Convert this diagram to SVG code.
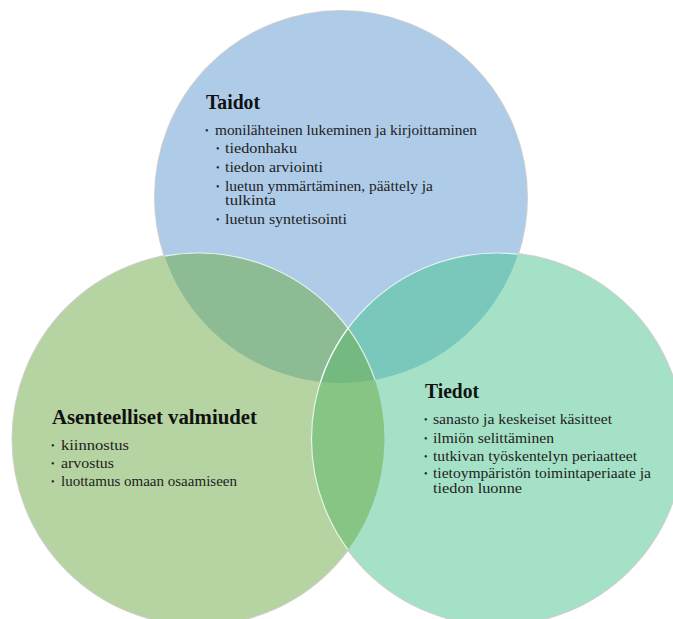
<svg xmlns="http://www.w3.org/2000/svg" width="673" height="619" viewBox="0 0 673 619">
<style>
.halo{fill:none;stroke:#cfcfcf;stroke-width:2}
.edge{fill:none;stroke:#ffffff;stroke-opacity:0.75;stroke-width:1.2}
.h{font-family:"Liberation Serif","Times New Roman",serif;font-weight:bold;font-size:20px;fill:#111}
.b{font-family:"Liberation Serif","Times New Roman",serif;font-size:14px;fill:#222}
.d{font-family:"Liberation Serif","Times New Roman",serif;font-size:10px;fill:#222}
</style>
<defs>
<clipPath id="cBlue"><circle cx="341" cy="197" r="186"/></clipPath>
<clipPath id="cGreen"><circle cx="198.5" cy="439" r="186"/></clipPath>
<clipPath id="cTeal"><circle cx="497.5" cy="439" r="186"/></clipPath>
</defs>
<rect width="673" height="619" fill="#ffffff"/>
<g id="halos">
<circle class="halo" cx="341" cy="197" r="186"/>
<circle class="halo" cx="198.5" cy="439" r="186"/>
<circle class="halo" cx="497.5" cy="439" r="186"/>
</g>
<g id="circles">
<circle cx="341" cy="197" r="186" fill="#aecbe8"/>
<circle cx="198.5" cy="439" r="186" fill="#b5d4a2"/>
<circle cx="497.5" cy="439" r="186" fill="#a5e1c7"/>
</g>
<g id="overlaps">
<circle cx="198.5" cy="439" r="186" fill="#8dbb94" clip-path="url(#cBlue)"/>
<circle cx="497.5" cy="439" r="186" fill="#7ac8bb" clip-path="url(#cBlue)"/>
<circle cx="497.5" cy="439" r="186" fill="#87c585" clip-path="url(#cGreen)"/>
<g clip-path="url(#cBlue)"><circle cx="497.5" cy="439" r="186" fill="#74b97f" clip-path="url(#cGreen)"/></g>
</g>
<g id="edges">
<circle class="edge" cx="198.5" cy="439" r="186" clip-path="url(#cBlue)"/>
<circle class="edge" cx="497.5" cy="439" r="186" clip-path="url(#cBlue)"/>
<circle class="edge" cx="497.5" cy="439" r="186" clip-path="url(#cGreen)"/>
</g>
<g id="taidot">
<text class="h" x="206" y="109" textLength="54" lengthAdjust="spacingAndGlyphs">Taidot</text>
<text class="d" x="205" y="134">•</text>
<text class="b" x="215" y="135" textLength="262" lengthAdjust="spacingAndGlyphs">monilähteinen lukeminen ja kirjoittaminen</text>
<text class="d" x="216" y="152">•</text>
<text class="b" x="225" y="153" textLength="72" lengthAdjust="spacingAndGlyphs">tiedonhaku</text>
<text class="d" x="216" y="171">•</text>
<text class="b" x="225" y="172" textLength="98" lengthAdjust="spacingAndGlyphs">tiedon arviointi</text>
<text class="d" x="216" y="190">•</text>
<text class="b" x="225" y="191" textLength="208" lengthAdjust="spacingAndGlyphs">luetun ymmärtäminen,  päättely ja</text>
<text class="b" x="225" y="205" textLength="51" lengthAdjust="spacingAndGlyphs">tulkinta</text>
<text class="d" x="216" y="223">•</text>
<text class="b" x="225" y="224" textLength="122" lengthAdjust="spacingAndGlyphs">luetun syntetisointi</text>
</g>
<g id="asenteelliset">
<text class="h" x="52" y="424" textLength="205" lengthAdjust="spacingAndGlyphs">Asenteelliset valmiudet</text>
<text class="d" x="51" y="449">•</text>
<text class="b" x="61" y="450" textLength="68" lengthAdjust="spacingAndGlyphs">kiinnostus</text>
<text class="d" x="51" y="467">•</text>
<text class="b" x="61" y="468" textLength="53" lengthAdjust="spacingAndGlyphs">arvostus</text>
<text class="d" x="51" y="485">•</text>
<text class="b" x="61" y="486" textLength="176" lengthAdjust="spacingAndGlyphs">luottamus omaan osaamiseen</text>
</g>
<g id="tiedot">
<text class="h" x="425" y="398" textLength="54" lengthAdjust="spacingAndGlyphs">Tiedot</text>
<text class="d" x="424" y="423">•</text>
<text class="b" x="433" y="424" textLength="179" lengthAdjust="spacingAndGlyphs">sanasto ja keskeiset käsitteet</text>
<text class="d" x="424" y="442">•</text>
<text class="b" x="433" y="443" textLength="121" lengthAdjust="spacingAndGlyphs">ilmiön selittäminen</text>
<text class="d" x="424" y="460">•</text>
<text class="b" x="433" y="461" textLength="204" lengthAdjust="spacingAndGlyphs">tutkivan työskentelyn periaatteet</text>
<text class="d" x="424" y="477">•</text>
<text class="b" x="433" y="478" textLength="218" lengthAdjust="spacingAndGlyphs">tietoympäristön toimintaperiaate ja</text>
<text class="b" x="433" y="493" textLength="89" lengthAdjust="spacingAndGlyphs">tiedon luonne</text>
</g>
</svg>
